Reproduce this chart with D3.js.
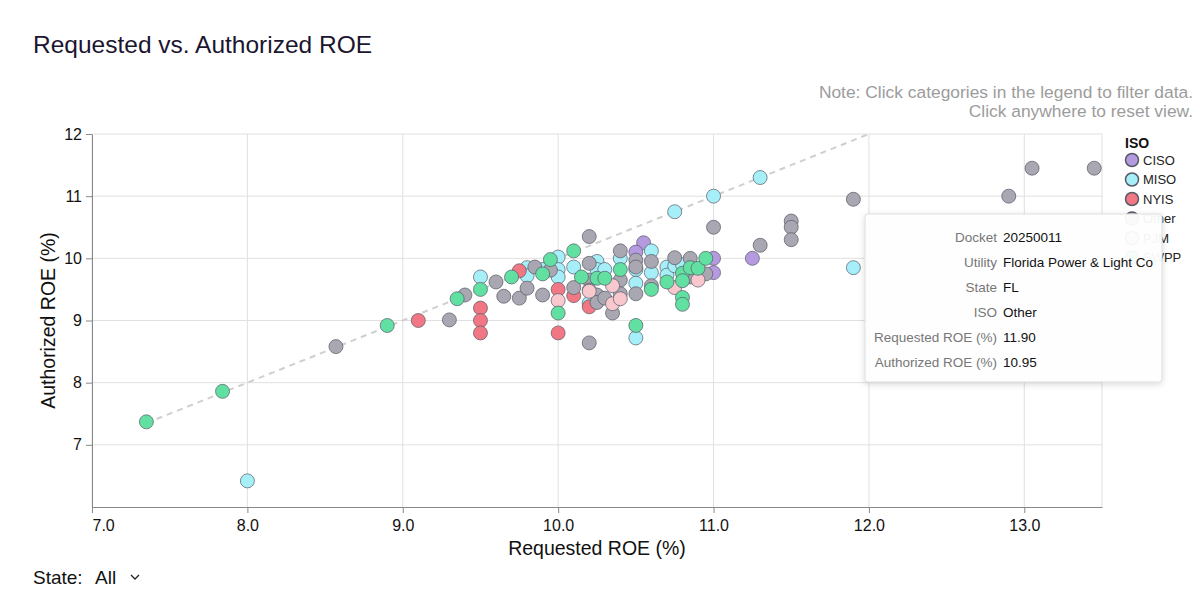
<!DOCTYPE html>
<html>
<head>
<meta charset="utf-8">
<script src="https://cdn.jsdelivr.net/npm/d3@7"></script>
<style>
  body { margin: 0; background: #fff; font-family: "Liberation Sans", Helvetica, Arial, sans-serif; }
  svg text { font-family: "Liberation Sans", Helvetica, Arial, sans-serif; }
</style>
</head>
<body>
<svg id="chart" width="1200" height="593"></svg>
<script>
// ISO categories and their colours (legend order)
const isoNames = ['CISO', 'MISO', 'NYIS', 'Other', 'PJM', 'SWPP'];
const isoColors = ['#b59ae0', '#a6eff9', '#f27784', '#a9a7b1', '#f8c8ce', '#62e0a2'];

// [requested ROE, authorized ROE] per ISO
const ciso = [[10.55, 10.25], [10.5, 10.1], [11.0, 10.0], [11.0, 9.77], [11.25, 10.0]];
const miso = [
  [8.0, 6.42], [9.5, 9.7], [9.8, 9.85], [9.8, 9.72], [9.9, 9.82], [10.0, 10.02], [10.0, 9.82],
  [10.0, 9.7], [10.1, 9.86], [10.25, 9.95], [10.25, 9.82], [10.3, 9.82], [10.2, 9.28], [10.4, 10.0],
  [10.5, 9.82], [10.5, 9.6], [10.5, 8.72], [10.6, 10.12], [10.6, 9.77], [10.7, 9.86], [10.7, 9.73],
  [10.75, 9.88], [10.8, 9.9], [10.75, 10.75], [11.0, 11.0], [11.3, 11.3], [11.9, 9.85]
];
const nyis = [[9.1, 9.0], [9.5, 9.2], [9.5, 9.0], [9.5, 8.8], [9.75, 9.8], [10.0, 9.5], [10.0, 8.8], [10.1, 9.4], [10.2, 9.22]];
const other = [
  [8.57, 8.58], [9.3, 9.01], [9.4, 9.41], [9.6, 9.62], [9.65, 9.39], [9.75, 9.36], [9.8, 9.52],
  [9.85, 9.86], [9.9, 9.41], [9.95, 9.81], [10.1, 9.53], [10.2, 10.35], [10.2, 9.92], [10.2, 9.65],
  [10.2, 9.49], [10.2, 8.64], [10.25, 9.41], [10.25, 9.29], [10.3, 9.36], [10.35, 9.12], [10.4, 10.12],
  [10.4, 9.65], [10.4, 9.43], [10.5, 9.97], [10.5, 9.86], [10.5, 9.43], [10.6, 9.95], [10.6, 9.56],
  [10.75, 10.01], [10.85, 10.0], [10.85, 9.7], [10.95, 9.75], [11.0, 10.5], [11.3, 10.21],
  [11.5, 10.6], [11.5, 10.5], [11.5, 10.3], [11.9, 10.95], [12.9, 11.0], [13.05, 11.45], [13.45, 11.45]
];
const pjm = [[10.0, 9.32], [10.2, 9.47], [10.35, 9.56], [10.35, 9.27], [10.4, 9.35], [10.75, 9.53], [10.9, 9.65]];
const swpp = [
  [7.35, 7.37], [7.84, 7.86], [8.9, 8.92], [9.35, 9.35], [9.5, 9.5], [9.7, 9.7], [9.9, 9.75],
  [9.95, 9.98], [10.0, 9.12], [10.1, 10.12], [10.15, 9.7], [10.25, 9.68], [10.3, 9.68], [10.4, 9.82],
  [10.5, 8.92], [10.6, 9.5], [10.7, 9.62], [10.8, 9.76], [10.8, 9.64], [10.8, 9.37], [10.8, 9.26],
  [10.85, 9.85], [10.9, 9.84], [10.95, 10.0]
];
const seriesByIso = [ciso, miso, nyis, other, pjm, swpp];

const xTicks = [7, 8, 9, 10, 11, 12, 13];
const yTicks = [7, 8, 9, 10, 11, 12];

// hovered record shown in the tooltip
const tipLabels = ['Docket', 'Utility', 'State', 'ISO', 'Requested ROE (%)', 'Authorized ROE (%)'];
const tipValues = ['20250011', 'Florida Power & Light Co', 'FL', 'Other', '11.90', '10.95'];

const svg = d3.select('#chart');
const margin = { left: 92, right: 1102, top: 134, bottom: 507 };

const x = d3.scaleLinear().domain([7, 13.5]).range([margin.left, margin.right]);
const y = d3.scaleLinear().domain([6, 12]).range([margin.bottom, margin.top]);
const color = d3.scaleOrdinal().domain(isoNames).range(isoColors);

// title + note
svg.append('text').attr('x', 33).attr('y', 53)
  .attr('font-size', 24.5).attr('fill', '#1b1530').text('Requested vs. Authorized ROE');
svg.append('text').attr('x', 1193).attr('y', 98).attr('text-anchor', 'end')
  .attr('font-size', 17.4).attr('fill', '#9c9c9c').text('Note: Click categories in the legend to filter data.');
svg.append('text').attr('x', 1193).attr('y', 117).attr('text-anchor', 'end')
  .attr('font-size', 17.4).attr('fill', '#9c9c9c').text('Click anywhere to reset view.');

// grid
const grid = svg.append('g');
grid.selectAll('.vx').data(xTicks).enter().append('line')
  .attr('x1', d => x(d)).attr('x2', d => x(d))
  .attr('y1', margin.top).attr('y2', margin.bottom)
  .attr('stroke', '#e0e0e0');
grid.selectAll('.hy').data(yTicks).enter().append('line')
  .attr('x1', margin.left).attr('x2', margin.right)
  .attr('y1', d => y(d)).attr('y2', d => y(d))
  .attr('stroke', '#e0e0e0');
grid.append('line').attr('x1', margin.right).attr('x2', margin.right)
  .attr('y1', margin.top).attr('y2', margin.bottom).attr('stroke', '#e0e0e0');

// axes
const xAxis = svg.append('g').attr('transform', `translate(0,${margin.bottom})`)
  .call(d3.axisBottom(x).tickValues(xTicks).tickFormat(d3.format('.1f')).tickSizeOuter(0).tickPadding(7));
const yAxis = svg.append('g').attr('transform', `translate(${margin.left},0)`)
  .call(d3.axisLeft(y).tickValues(yTicks).tickFormat(d3.format('d')).tickSizeOuter(0).tickPadding(4));
[xAxis, yAxis].forEach(a => {
  a.select('.domain').attr('stroke', '#888');
  a.selectAll('.tick line').attr('stroke', '#888');
  a.selectAll('.tick text').attr('font-size', 16).attr('fill', '#111')
    .style('font-family', '"Liberation Sans", Helvetica, Arial, sans-serif');
});
// first x label sits flush with the axis start
xAxis.selectAll('.tick text').filter(d => d === xTicks[0]).attr('text-anchor', 'start');

svg.append('text').attr('x', (margin.left + margin.right) / 2).attr('y', 555).attr('text-anchor', 'middle')
  .attr('font-size', 19.5).attr('fill', '#111').text('Requested ROE (%)');
svg.append('text').attr('transform', `translate(55,${(margin.top + margin.bottom) / 2}) rotate(-90)`)
  .attr('text-anchor', 'middle').attr('font-size', 19.5).attr('fill', '#111').text('Authorized ROE (%)');

// reference line y = x
const allPts = [];
seriesByIso.forEach((arr, i) => arr.forEach(p => allPts.push({ iso: isoNames[i], req: p[0], auth: p[1] })));
const minReq = d3.min(allPts, d => d.req);
svg.append('line')
  .attr('x1', x(minReq)).attr('y1', y(minReq))
  .attr('x2', x(12)).attr('y2', y(12))
  .attr('stroke', '#cfcfcf').attr('stroke-width', 2).attr('stroke-dasharray', '6,5');

// points
svg.append('g').selectAll('circle').data(allPts).enter().append('circle')
  .attr('cx', d => x(d.req)).attr('cy', d => y(d.auth)).attr('r', 7)
  .attr('fill', d => color(d.iso))
  .attr('stroke', '#555a66').attr('stroke-opacity', 0.7).attr('stroke-width', 1);

// legend
const legend = svg.append('g').attr('transform', 'translate(1125,0)');
legend.append('text').attr('x', 0).attr('y', 148).attr('font-size', 14)
  .attr('font-weight', 'bold').attr('fill', '#111').text('ISO');
const li = legend.selectAll('.li').data(isoNames).enter().append('g')
  .attr('transform', (d, i) => `translate(0,${160 + i * 19.5})`);
li.append('circle').attr('cx', 7).attr('cy', 0).attr('r', 6.5)
  .attr('fill', d => color(d)).attr('stroke', '#555a66').attr('stroke-width', 1.5);
li.append('text').attr('x', 18).attr('y', 4.5).attr('font-size', 13).attr('fill', '#222').text(d => d);

// tooltip
const defs = svg.append('defs');
const f = defs.append('filter').attr('id', 'shadow').attr('x', '-10%').attr('y', '-10%')
  .attr('width', '120%').attr('height', '130%');
f.append('feDropShadow').attr('dx', 0).attr('dy', 2).attr('stdDeviation', 3)
  .attr('flood-color', '#000').attr('flood-opacity', 0.15);
const tip = svg.append('g').attr('transform', 'translate(865,214)');
tip.append('rect').attr('width', 297).attr('height', 168).attr('rx', 3)
  .attr('fill', '#fff').attr('fill-opacity', 0.94).attr('stroke', '#ddd').attr('filter', 'url(#shadow)');
tipLabels.forEach((lab, i) => {
  tip.append('text').attr('x', 132).attr('y', 28 + i * 25).attr('text-anchor', 'end')
    .attr('font-size', 13.5).attr('fill', '#777').text(lab);
  tip.append('text').attr('x', 138).attr('y', 28 + i * 25)
    .attr('font-size', 13.5).attr('fill', '#111').text(tipValues[i]);
});

// state selector
svg.append('text').attr('x', 33).attr('y', 584).attr('font-size', 19).attr('fill', '#111')
  .text('State:');
svg.append('text').attr('x', 95).attr('y', 584).attr('font-size', 19).attr('fill', '#111')
  .text('All');
svg.append('path').attr('d', 'M131,575 l4,4 l4,-4').attr('fill', 'none')
  .attr('stroke', '#222').attr('stroke-width', 1.3);
</script>
</body>
</html>
